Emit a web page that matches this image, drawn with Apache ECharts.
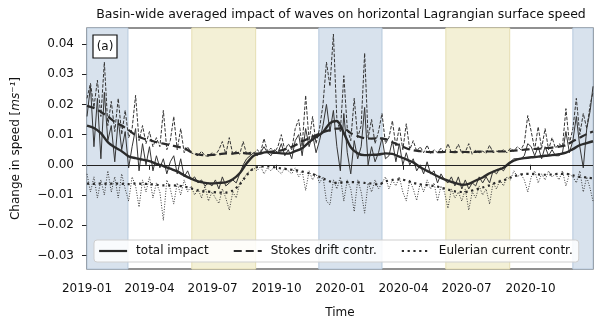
<!DOCTYPE html>
<html>
<head>
<meta charset="utf-8">
<script src="https://cdn.jsdelivr.net/npm/echarts@6/dist/echarts.min.js"></script>
<style>
  html, body { margin: 0; padding: 0; background: #fff; }
  #main { width: 600px; height: 324px; }
</style>
</head>
<body>
<div id="main"></div>
<script>
// time is counted in days since 2019-01-01
var tickDays = [0, 90, 181, 273, 365, 456, 547, 639];
var tickLabels = ["2019-01", "2019-04", "2019-07", "2019-10", "2020-01", "2020-04", "2020-07", "2020-10"];
var yTicks = [-0.03, -0.02, -0.01, 0.0, 0.01, 0.02, 0.03, 0.04];

// DJF (blue) and JJA (yellow) seasons
var winterSpans = [[0, 59], [334, 425], [700, 729]];
var summerSpans = [[151, 243], [517, 609]];

// raw values, one every 5 days, last one on day 729
var totalRaw = [
  0.016, 0.026, 0.006, 0.022, 0.002, 0.024, 0.008, 0.013, 0.001, 0.015,
  0.005, 0.011, -0.001, 0.006, 0.012, -0.002, 0.007, 0.0, 0.006, -0.002,
  0.003, -0.001, 0.002, -0.003, 0.001, 0.003, -0.003, 0.002, -0.004, -0.002,
  -0.005, -0.004, -0.006, -0.005, -0.007, -0.006, -0.007, -0.005, -0.008, -0.004,
  -0.007, -0.006, -0.005, -0.006, -0.003, 0.0, 0.002, 0.003, 0.004, 0.003,
  0.004, 0.006, 0.004, 0.003, 0.005, 0.004, 0.007, 0.003, 0.005, 0.002,
  0.008, 0.010, 0.003, 0.012, 0.006, 0.010, 0.004, 0.008, 0.013, 0.020,
  0.011, 0.018, 0.006, -0.002, 0.017, 0.004, -0.003, 0.008, 0.002, 0.006,
  0.019, 0.0, 0.006, 0.001, 0.004, 0.009, 0.002, 0.003, 0.008, 0.001,
  0.007, 0.0, 0.004, 0.0, 0.002, -0.002, 0.0, -0.003, 0.001, -0.003,
  -0.002, -0.006, -0.003, -0.005, -0.006, -0.004, -0.007, -0.004, -0.008, -0.005,
  -0.008, -0.006, -0.007, -0.004, -0.006, -0.004, -0.006, -0.002, -0.003, -0.001,
  -0.002, 0.0, 0.001, 0.002, 0.002, 0.002, 0.003, 0.007, 0.006, 0.003,
  0.006, 0.002, 0.006, 0.003, 0.005, 0.003, 0.003, 0.004, 0.011, 0.004,
  0.008, 0.016, 0.006, -0.001, 0.012, 0.018, 0.026
];
var stokesRaw = [
  0.022, 0.027, 0.019, 0.028, 0.016, 0.034, 0.013, 0.021, 0.011, 0.022,
  0.010, 0.018, 0.009, 0.012, 0.023, 0.008, 0.013, 0.007, 0.011, 0.006,
  0.009, 0.006, 0.018, 0.005, 0.008, 0.016, 0.005, 0.012, 0.004, 0.006,
  0.004, 0.0035, 0.003, 0.0045, 0.003, 0.0028, 0.004, 0.0032, 0.005, 0.0077,
  0.0035, 0.009, 0.0035, 0.0045, 0.0035, 0.0077, 0.0035, 0.0042, 0.0038, 0.005,
  0.004, 0.0087, 0.0045, 0.0055, 0.004, 0.006, 0.010, 0.0048, 0.007, 0.005,
  0.012, 0.015, 0.006, 0.023, 0.008, 0.016, 0.007, 0.012, 0.020, 0.034,
  0.026, 0.0433, 0.015, 0.011, 0.0295, 0.012, 0.008, 0.022, 0.009, 0.013,
  0.037, 0.009, 0.015, 0.007, 0.011, 0.017, 0.007, 0.009, 0.0146, 0.006,
  0.0126, 0.005, 0.0136, 0.005, 0.008, 0.0045, 0.006, 0.004, 0.0065, 0.0038,
  0.005, 0.004, 0.0055, 0.0038, 0.007, 0.004, 0.0045, 0.0068, 0.0038, 0.0042,
  0.007, 0.0035, 0.0048, 0.004, 0.0045, 0.0038, 0.0065, 0.004, 0.0045, 0.0042,
  0.005, 0.004, 0.0055, 0.0045, 0.006, 0.005, 0.007, 0.0163, 0.011, 0.005,
  0.0126, 0.0055, 0.012, 0.005, 0.009, 0.0055, 0.007, 0.006, 0.0186, 0.007,
  0.012, 0.022, 0.010, 0.017, 0.012, 0.020, 0.024
];
var eulerRaw = [
  -0.003, -0.009, -0.004, -0.011, -0.005, -0.010, -0.002, -0.009, -0.004, -0.011,
  -0.003, -0.008, -0.012, -0.004, -0.007, -0.014, -0.005, -0.009, -0.004, -0.011,
  -0.006, -0.009, -0.0184, -0.005, -0.008, -0.013, -0.006, -0.010, -0.005, -0.009,
  -0.007, -0.010, -0.008, -0.011, -0.007, -0.012, -0.009, -0.011, -0.0128, -0.008,
  -0.011, -0.015, -0.009, -0.011, -0.006, -0.005, -0.003, -0.002, -0.001, -0.002,
  -0.0005, -0.003, -0.001, -0.002, -0.0005, -0.002, -0.003, -0.001, -0.002, -0.003,
  -0.001, -0.004, -0.002, -0.0085, -0.002, -0.005, -0.003, -0.006, -0.004, -0.012,
  -0.0133, -0.005, -0.008, -0.004, -0.012, -0.005, -0.008, -0.0155, -0.005, -0.009,
  -0.016, -0.006, -0.009, -0.005, -0.008, -0.006, -0.004, -0.008, -0.005, -0.007,
  -0.004, -0.009, -0.012, -0.005, -0.008, -0.0118, -0.006, -0.009, -0.005, -0.008,
  -0.006, -0.012, -0.007, -0.009, -0.0144, -0.008, -0.011, -0.009, -0.012, -0.008,
  -0.015, -0.009, -0.011, -0.007, -0.010, -0.008, -0.013, -0.006, -0.008, -0.005,
  -0.007, -0.004, -0.005, -0.002, -0.004, -0.003, -0.005, -0.009, -0.004, -0.002,
  -0.006, -0.003, -0.005, -0.002, -0.004, -0.003, -0.005, -0.002, -0.007, -0.003,
  -0.004, -0.006, -0.002, -0.009, -0.004, -0.008, -0.012
];

// running means, one every 10 days, last one on day 729
var totalSmooth = [
  0.013, 0.0122, 0.0105, 0.0075, 0.0058, 0.0045, 0.0028, 0.0022, 0.0017, 0.0012,
  0.0003, -0.0004, -0.0013, -0.0022, -0.0035, -0.0046, -0.0055, -0.006, -0.0062, -0.006,
  -0.0058, -0.0048, -0.0028, 0.0005, 0.003, 0.0038, 0.0042, 0.004, 0.0038, 0.0037,
  0.0045, 0.0055, 0.0075, 0.0092, 0.0108, 0.0138, 0.0145, 0.0105, 0.0058, 0.0038,
  0.0032, 0.0033, 0.0034, 0.0038, 0.0036, 0.0027, 0.0018, 0.0008, -0.0008, -0.002,
  -0.0032, -0.0043, -0.0052, -0.006, -0.0066, -0.0063, -0.0052, -0.0042, -0.0028, -0.0018,
  -0.001, 0.0008, 0.0018, 0.0022, 0.0025, 0.0027, 0.003, 0.0032, 0.0035, 0.004,
  0.0052, 0.0065, 0.0072, 0.0078
];
var stokesSmooth = [
  0.0195, 0.0188, 0.0175, 0.016, 0.0142, 0.013, 0.0115, 0.0098, 0.0088, 0.0082,
  0.0075, 0.007, 0.0065, 0.006, 0.0055, 0.0042, 0.0034, 0.0032, 0.0033, 0.0035,
  0.0038, 0.0037, 0.004, 0.0038, 0.0037, 0.0038, 0.0042, 0.0045, 0.0048, 0.0055,
  0.0065, 0.0078, 0.0088, 0.0098, 0.0108, 0.0115, 0.012, 0.012, 0.0105, 0.0095,
  0.0088, 0.0087, 0.0088, 0.0085, 0.0075, 0.0065, 0.0055, 0.0048, 0.0045, 0.0043,
  0.0042, 0.0042, 0.0043, 0.0042, 0.0043, 0.0042, 0.0043, 0.0044, 0.0044, 0.0045,
  0.0044, 0.0046, 0.0048, 0.005, 0.0052, 0.0053, 0.0055, 0.0057, 0.006, 0.0065,
  0.0078, 0.009, 0.0102, 0.011
];
var eulerSmooth = [
  -0.0062, -0.0063, -0.0062, -0.0063, -0.0062, -0.0063, -0.0064, -0.0062, -0.0063, -0.0064,
  -0.0066, -0.0068, -0.0068, -0.0069, -0.0072, -0.0078, -0.0085, -0.0088, -0.009, -0.0092,
  -0.0092, -0.0085, -0.0065, -0.0035, -0.0012, -0.0006, -0.0005, -0.0008, -0.0012, -0.0015,
  -0.0018, -0.0022, -0.0028, -0.0035, -0.0045, -0.0055, -0.006, -0.0058, -0.0057, -0.0058,
  -0.006, -0.0062, -0.0065, -0.0055, -0.005, -0.0048, -0.0052, -0.006, -0.0065, -0.0067,
  -0.007, -0.0075, -0.0082, -0.0088, -0.009, -0.0088, -0.0082, -0.0075, -0.0068, -0.0058,
  -0.0052, -0.0042, -0.0035, -0.003, -0.003, -0.0032, -0.0033, -0.0032, -0.003, -0.003,
  -0.0035, -0.004, -0.0042, -0.0045
];

var LAST_DAY = 729;

function rawDay(i, n) {
  return i === n - 1 ? LAST_DAY : i * 5;
}
function smoothDay(i, n) {
  return i === n - 1 ? LAST_DAY : i * 10;
}
function pairs(values, dayFn) {
  return values.map(function (v, i) {
    return [dayFn(i, values.length), v];
  });
}

var chart = echarts.init(document.getElementById("main"), null, { renderer: "canvas" });

var ink = "#2b2b2b";
var thin = "#353535";
var font = "DejaVu Sans";

var bands = [];
winterSpans.forEach(function (s) {
  bands.push([
    { xAxis: s[0], itemStyle: { color: "#d8e2ed", borderColor: "#b6c9dd", borderWidth: 1 } },
    { xAxis: s[1] }
  ]);
});
summerSpans.forEach(function (s) {
  bands.push([
    { xAxis: s[0], itemStyle: { color: "#f3f0d6", borderColor: "#e6dfb3", borderWidth: 1 } },
    { xAxis: s[1] }
  ]);
});

var option = {
  animation: false,
  textStyle: { fontFamily: font },
  title: {
    text: "Basin-wide averaged impact of waves on horizontal Lagrangian surface speed",
    left: 336,
    textAlign: "center",
    top: 3,
    textStyle: { fontSize: 12.5, fontWeight: "normal", color: "#111", fontFamily: font }
  },
  grid: {
    left: 87, right: 7, top: 28, bottom: 55,
    show: true, borderColor: "#222", borderWidth: 1.2, backgroundColor: "transparent"
  },
  legend: {
    left: 94, top: 240,
    data: ["total impact", "Stokes drift contr.", "Eulerian current contr."],
    itemWidth: 28, itemHeight: 10, itemGap: 24,
    padding: [5, 6, 5, 4],
    backgroundColor: "rgba(255,255,255,0.85)",
    borderColor: "#cfcfcf", borderWidth: 1, borderRadius: 3,
    itemStyle: { color: "transparent", borderWidth: 0, opacity: 0 },
    lineStyle: { width: 2.2 },
    textStyle: { fontSize: 12, color: "#111", fontFamily: font, padding: [0, 0, 0, 4] }
  },
  xAxis: {
    type: "value",
    min: 0, max: LAST_DAY,
    name: "Time",
    nameLocation: "middle",
    nameGap: 38,
    nameTextStyle: { fontSize: 12, color: "#111", fontFamily: font },
    axisLine: { show: false },
    splitLine: { show: false },
    axisTick: { show: true, length: 5, lineStyle: { color: "#222", width: 1 }, customValues: tickDays },
    axisLabel: {
      fontSize: 12, color: "#111", margin: 14, fontFamily: font,
      customValues: tickDays,
      formatter: function (v) {
        var k = tickDays.indexOf(Math.round(v));
        return k >= 0 ? tickLabels[k] : "";
      }
    }
  },
  yAxis: {
    type: "value",
    min: -0.0345, max: 0.0453,
    name: "{n|Change in speed [}{i|ms⁻¹}{n|]}",
    nameLocation: "middle",
    nameRotate: 90,
    nameGap: 65,
    nameTextStyle: {
      rich: {
        n: { fontSize: 12, color: "#111", fontFamily: font },
        i: { fontSize: 12, color: "#111", fontFamily: font, fontStyle: "italic" }
      }
    },
    axisLine: { show: false },
    splitLine: { show: false },
    axisTick: { show: true, length: 5, lineStyle: { color: "#222", width: 1 }, customValues: yTicks },
    axisLabel: {
      fontSize: 12, color: "#111", margin: 13, fontFamily: font,
      customValues: yTicks,
      formatter: function (v) {
        var s = Math.abs(v).toFixed(2);
        return v < -1e-9 ? "\u2212" + s : s;
      }
    }
  },
  graphic: [
    {
      type: "rect", z: 100,
      shape: { x: 93, y: 35, width: 24, height: 23 },
      style: { fill: "#fff", stroke: "#111", lineWidth: 1.2 }
    },
    {
      type: "text", z: 101, x: 105, y: 46.5,
      style: { text: "(a)", fontSize: 12, fontFamily: font, fill: "#111", align: "center", verticalAlign: "middle" }
    }
  ],
  series: [
    {
      name: "total impact", type: "line", z: 4,
      data: pairs(totalSmooth, smoothDay), smooth: 0.3,
      symbol: "none", lineStyle: { color: ink, width: 2.4 }, itemStyle: { color: ink }
    },
    {
      name: "Stokes drift contr.", type: "line", z: 4,
      data: pairs(stokesSmooth, smoothDay), smooth: 0.3,
      symbol: "none", lineStyle: { color: ink, width: 2.2, type: [8, 4] }, itemStyle: { color: ink }
    },
    {
      name: "Eulerian current contr.", type: "line", z: 4,
      data: pairs(eulerSmooth, smoothDay), smooth: 0.3,
      symbol: "none", lineStyle: { color: ink, width: 2.2, type: [2.2, 3.6] }, itemStyle: { color: ink }
    },
    {
      name: "seasons", type: "line", z: 1, data: [], silent: true,
      markArea: { silent: true, data: bands }
    },
    {
      name: "zero", type: "line", z: 2, data: [], silent: true,
      markLine: {
        silent: true, symbol: "none", label: { show: false },
        lineStyle: { color: "#222", width: 1, type: "solid" },
        data: [{ yAxis: 0 }]
      }
    },
    {
      name: "total impact", type: "line", z: 3,
      data: pairs(totalRaw, rawDay),
      symbol: "none", lineStyle: { color: thin, width: 1 }
    },
    {
      name: "Stokes drift contr.", type: "line", z: 3,
      data: pairs(stokesRaw, rawDay),
      symbol: "none", lineStyle: { color: thin, width: 1, type: [3.5, 1.6] }
    },
    {
      name: "Eulerian current contr.", type: "line", z: 3,
      data: pairs(eulerRaw, rawDay),
      symbol: "none", lineStyle: { color: thin, width: 1, type: [1, 1.6] }
    }
  ]
};

chart.setOption(option);
</script>
</body>
</html>
